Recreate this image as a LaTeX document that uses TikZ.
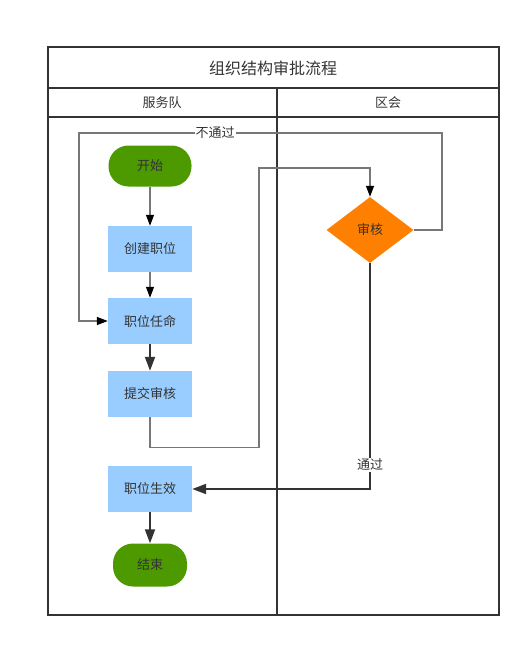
\documentclass[tikz,border=0pt]{standalone}
\usepackage{fontspec}
\setmainfont{Noto Sans CJK SC}
\usetikzlibrary{arrows.meta,shapes.geometric}
\definecolor{startgreen}{HTML}{4D9900}
\definecolor{stepblue}{HTML}{99CCFF}
\definecolor{checkorange}{HTML}{FF8000}
\definecolor{darkline}{HTML}{333333}
\definecolor{grayline}{HTML}{777777}
\tikzset{
  lane/.style={draw=darkline,line width=2pt},
  terminal/.style={fill=startgreen,rounded corners=20pt,minimum width=83pt,minimum height=41pt,inner sep=0pt,text=darkline,font=\fontsize{13pt}{15pt}\selectfont},
  stepbox/.style={fill=stepblue,minimum width=84pt,minimum height=46pt,inner sep=0pt,text=darkline,font=\fontsize{13pt}{15pt}\selectfont},
  decision/.style={diamond,fill=checkorange,minimum width=87pt,minimum height=66pt,inner sep=0pt,text=darkline,font=\fontsize{13pt}{15pt}\selectfont},
  thinflow/.style={draw=grayline,line width=1.3pt,-{Triangle[length=11pt,width=8pt,black]}},
  thickflow/.style={draw=darkline,line width=2pt,-{Triangle[length=14pt,width=10pt]}},
  lbl/.style={fill=white,inner sep=1pt,text=darkline,font=\fontsize{13pt}{15pt}\selectfont}
}
\begin{document}
\begin{tikzpicture}[x=1pt,y=-1pt]
\useasboundingbox (0,0) rectangle (531,648);
% lanes
\draw[lane] (48,47) rectangle (499,615);
\draw[lane] (48,88) -- (499,88);
\draw[lane] (48,117) -- (499,117);
\draw[lane] (277,88) -- (277,615);
\node[text=darkline,font=\fontsize{16pt}{18pt}\selectfont] (title) at (273,68) {组织结构审批流程};
\node[text=darkline,font=\fontsize{13pt}{15pt}\selectfont] (team) at (162,103) {服务队};
\node[text=darkline,font=\fontsize{13pt}{15pt}\selectfont] (council) at (388,103) {区会};
% nodes
\node[terminal] (start) at (150,166) {开始};
\node[stepbox] (create) at (150,249) {创建职位};
\node[stepbox] (appoint) at (150,321) {职位任命};
\node[stepbox] (submit) at (150,394) {提交审核};
\node[stepbox] (effect) at (150,489) {职位生效};
\node[terminal,minimum width=74pt,minimum height=43pt] (finish) at (150,565) {结束};
\node[decision] (check) at (370,230) {审核};
% connectors
\draw[thinflow] (start) -- (create);
\draw[thinflow] (create) -- (appoint);
\draw[thickflow] (appoint) -- (submit);
\draw[thinflow] (submit.south) -- ++(0,30) -| (259,168) -| (check.north);
\draw[thinflow] (check.east) -- (442,230) |- (79,133) |- (appoint.west);
\node[lbl] (reject) at (215,133) {不通过};
\draw[thickflow] (check.south) |- (effect.east);
\node[lbl] (pass) at (370,465) {通过};
\draw[thickflow] (effect) -- (finish);
\end{tikzpicture}
\end{document}
